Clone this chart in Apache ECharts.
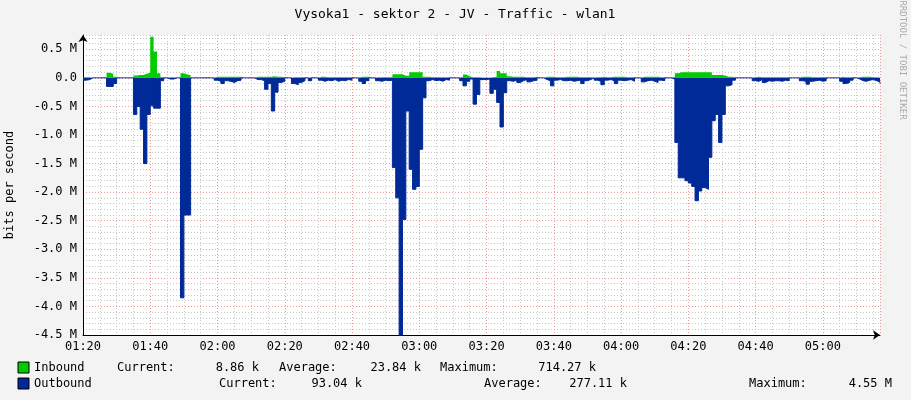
<!DOCTYPE html>
<html>
<head>
<meta charset="utf-8">
<script src="https://cdn.jsdelivr.net/npm/echarts@6/dist/echarts.min.js"></script>
<style>
  html, body { margin: 0; padding: 0; background: #f3f3f3; }
  #chart { width: 911px; height: 400px; }
</style>
</head>
<body>
<div id="chart"></div>
<script>
// minutes from 01:20, one sample per minute, values in Mbit/s
var startLabel = ['01:20', '01:40', '02:00', '02:20', '02:40', '03:00', '03:20', '03:40', '04:00', '04:20', '04:40', '05:00'];
var inbound = [
  0.01,0.01,0,0,0,0.01,0,0.09,0.07,0.02,
  0,0,0,0,0,0.04,0.05,0.05,0.07,0.09,
  0.72,0.46,0.08,0.01,0,0.01,0.01,0,0,0.08,
  0.06,0.05,0,0,0,0,0.01,0,0,0.02,
  0.02,0.02,0.02,0.02,0.02,0.02,0.02,0,0,0,
  0,0.02,0.02,0.02,0.02,0.02,0.03,0.02,0.02,0.01,
  0,0,0.01,0.01,0.01,0.01,0,0.01,0,0,
  0.02,0.02,0.01,0.01,0.01,0.01,0.01,0.01,0.01,0.01,
  0,0,0.02,0.02,0.02,0,0,0.01,0.01,0.01,
  0.01,0.01,0.065,0.065,0.065,0.035,0.035,0.1,0.1,0.1,
  0.1,0.02,0.02,0.01,0.01,0.01,0.01,0.01,0.01,0,
  0,0,0.02,0.06,0.03,0.01,0.01,0.01,0,0,
  0,0.01,0.02,0.12,0.08,0.08,0.03,0.02,0.02,0.02,
  0.02,0.01,0.01,0.01,0.02,0,0,0.02,0.02,0.02,
  0.01,0.01,0.01,0.02,0.02,0.02,0.02,0.01,0.01,0.01,
  0.01,0,0.01,0.01,0.02,0.01,0.01,0.02,0.02,0.02,
  0.02,0.01,0.01,0.01,0,0,0.02,0.02,0.02,0.02,
  0.02,0.01,0.01,0,0,0.02,0.08,0.1,0.1,0.1,
  0.1,0.1,0.1,0.1,0.1,0.1,0.1,0.05,0.05,0.05,
  0.04,0.02,0.02,0.01,0,0,0,0,0,0.01,
  0.02,0.01,0.01,0.01,0.01,0.01,0.01,0.01,0.01,0.01,
  0,0,0,0.02,0.02,0.02,0.01,0.01,0.01,0.01,
  0.01,0,0,0,0,0.02,0.01,0.01,0.01,0,
  0.01,0.02,0.02,0.02,0.01,0.01,0.01,0.01
];
var outbound = [
  0.04,0.03,0,0,0,0,0,0.15,0.15,0.1,
  0,0,0,0,0,0.64,0.5,0.9,1.5,0.64,
  0.49,0.53,0.53,0.05,0,0.02,0.02,0,0,3.85,
  2.4,2.4,0,0,0,0,0,0,0,0.04,
  0.06,0.1,0.05,0.06,0.08,0.05,0.04,0,0,0,
  0,0.03,0.03,0.05,0.2,0.1,0.58,0.25,0.08,0.06,
  0,0,0.1,0.12,0.08,0.05,0,0.05,0,0,
  0.04,0.06,0.04,0.05,0.03,0.06,0.04,0.05,0.03,0.04,
  0,0,0.06,0.1,0.05,0,0,0.05,0.06,0.04,
  0.05,0.04,1.57,2.1,4.55,2.48,0.58,1.6,1.95,1.9,
  1.25,0.35,0.05,0.03,0.05,0.04,0.06,0.03,0.04,0,
  0,0,0.05,0.14,0.06,0.02,0.46,0.29,0.03,0.03,
  0.02,0.27,0.2,0.43,0.86,0.26,0.05,0.06,0.04,0.08,
  0.05,0.03,0.07,0.05,0.04,0,0,0.03,0.05,0.14,
  0.04,0.03,0.05,0.05,0.04,0.06,0.05,0.04,0.1,0.05,
  0.03,0,0.04,0.06,0.12,0.04,0.03,0.05,0.1,0.04,
  0.05,0.04,0.03,0.06,0,0,0.07,0.05,0.04,0.06,
  0.08,0.04,0.05,0,0,0.02,1.13,1.75,1.75,1.8,
  1.84,1.9,2.15,1.98,1.92,1.95,1.39,0.75,0.64,1.13,
  0.64,0.14,0.12,0.04,0,0,0,0,0,0.05,
  0.06,0.03,0.08,0.05,0.06,0.05,0.05,0.06,0.04,0.05,
  0,0,0,0.05,0.06,0.11,0.06,0.05,0.04,0.06,
  0.05,0,0,0,0,0.06,0.1,0.08,0.04,0,
  0.02,0.05,0.06,0.04,0.03,0.05,0.07,0.1
];

var mono = 'DejaVu Sans Mono';
var inData = inbound.map(function (v, i) { return [i, v]; });
var outData = outbound.map(function (v, i) { return [i, -v]; });

var myChart = echarts.init(document.getElementById('chart'));
var txt = function (x, y, s, align) {
  return { type: 'text', x: x, y: y, style: { text: s, font: '12px ' + mono, fill: '#000', align: align || 'left', verticalAlign: 'middle' } };
};
myChart.setOption({
  animation: false,
  backgroundColor: '#f3f3f3',
  grid: { left: 83, right: 31, top: 35, bottom: 65, outerBoundsMode: 'none', containLabel: false, show: true, backgroundColor: '#fff', borderWidth: 0 },
  xAxis: {
    type: 'value', min: 0, max: 237, interval: 5,
    axisLine: { show: true, onZero: false, lineStyle: { color: '#000' }, symbol: ['none', 'arrow'], symbolSize: [7, 7] },
    axisTick: { show: false },
    axisLabel: {
      fontFamily: mono, fontSize: 12, color: '#000', margin: 6, showMaxLabel: false,
      formatter: function (v) { return v % 20 === 0 ? startLabel[v / 20] : ''; }
    },
    splitLine: { show: true, lineStyle: { type: [1, 2], color: ['#f09a9a', '#c8c8c8', '#c8c8c8', '#c8c8c8'] } }
  },
  yAxis: {
    type: 'value', min: -4.5, max: 0.75, interval: 0.1,
    name: 'bits per second', nameLocation: 'middle', nameGap: 67, nameRotate: 90,
    nameTextStyle: { fontFamily: mono, fontSize: 12, color: '#000' },
    axisLine: { show: true, lineStyle: { color: '#000' }, symbol: ['none', 'arrow'], symbolSize: [7, 7] },
    axisTick: { show: false },
    axisLabel: {
      fontFamily: mono, fontSize: 12, color: '#000', margin: 6, showMaxLabel: false,
      formatter: function (v) {
        var r = Math.round(v * 10);
        if (r % 5 !== 0) return '';
        if (r === 0) return '0.0';
        return (r / 10).toFixed(1) + ' M';
      }
    },
    splitLine: { show: true, lineStyle: { type: [1, 2], color: ['#f09a9a', '#c8c8c8', '#c8c8c8', '#c8c8c8', '#c8c8c8'] } }
  },
  series: [
    {
      name: 'Inbound', type: 'line', step: 'end', data: inData, symbol: 'none',
      lineStyle: { width: 0 }, areaStyle: { color: '#00cc00', opacity: 1 }
    },
    {
      name: 'Outbound', type: 'line', step: 'end', data: outData, symbol: 'none',
      lineStyle: { width: 1, color: '#002a97' }, areaStyle: { color: '#002a97', opacity: 1 }
    }
  ],
  graphic: [
    { type: 'text', x: 455, y: 15, style: { text: 'Vysoka1 - sektor 2 - JV - Traffic - wlan1', font: '13px ' + mono, fill: '#000', align: 'center', verticalAlign: 'middle' } },
    { type: 'text', x: 902, y: 60, rotation: -Math.PI / 2, style: { text: 'RRDTOOL / TOBI OETIKER', font: '9px ' + mono, fill: '#aaa', align: 'center', verticalAlign: 'middle' } },
    { type: 'rect', shape: { x: 18, y: 362, width: 11, height: 11 }, style: { fill: '#00cc00', stroke: '#000', lineWidth: 1 } },
    { type: 'rect', shape: { x: 18, y: 378, width: 11, height: 11 }, style: { fill: '#002a97', stroke: '#000', lineWidth: 1 } },
    txt(34, 368, 'Inbound'), txt(117, 368, 'Current:'), txt(259, 368, '8.86 k', 'right'),
    txt(279, 368, 'Average:'), txt(421, 368, '23.84 k', 'right'),
    txt(440, 368, 'Maximum:'), txt(596, 368, '714.27 k', 'right'),
    txt(34, 384, 'Outbound'), txt(219, 384, 'Current:'), txt(362, 384, '93.04 k', 'right'),
    txt(484, 384, 'Average:'), txt(627, 384, '277.11 k', 'right'),
    txt(749, 384, 'Maximum:'), txt(892, 384, '4.55 M', 'right')
  ]
});
</script>
</body>
</html>
